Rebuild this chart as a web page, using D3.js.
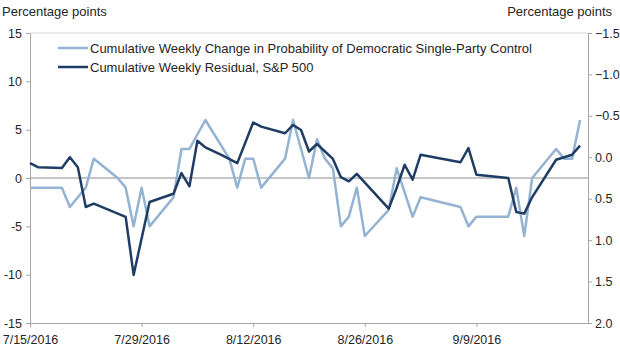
<!DOCTYPE html>
<html>
<head>
<meta charset="utf-8">
<script src="https://cdn.jsdelivr.net/npm/d3@7"></script>
<style>
    body { margin: 0; background: #fff; }
    svg { font-family: "Liberation Sans", Arial, sans-serif; }
    .axis path, .axis line { stroke: #a6a6a6; }
    .axis text { fill: #262626; font-size: 12.5px; }
</style>
</head>
<body>
<svg id="chart" width="620" height="352"></svg>
<script>
// Cumulative weekly change in probability of Democratic single-party control (left axis)
const probDates = ['2016-07-15', '2016-07-19', '2016-07-20', '2016-07-22', '2016-07-23', '2016-07-26',
    '2016-07-27', '2016-07-28', '2016-07-29', '2016-07-30', '2016-08-02', '2016-08-03', '2016-08-04',
    '2016-08-06', '2016-08-09', '2016-08-10', '2016-08-11', '2016-08-12', '2016-08-13', '2016-08-16',
    '2016-08-17', '2016-08-19', '2016-08-20', '2016-08-21', '2016-08-22', '2016-08-23', '2016-08-24',
    '2016-08-25', '2016-08-26', '2016-08-29', '2016-08-30', '2016-09-01', '2016-09-02', '2016-09-07',
    '2016-09-08', '2016-09-09', '2016-09-13', '2016-09-14', '2016-09-15', '2016-09-16', '2016-09-19',
    '2016-09-20', '2016-09-21', '2016-09-22'];
const probValues = [-1, -1, -3, -1, 2, 0, -1, -5, -1, -5, -2, 3, 3, 6, 2, -1, 2, 2, -1, 2, 6, 0, 4, 2, 1,
    -5, -4, -1, -6, -3.3, 1, -4, -2, -3, -5, -4, -4, -1, -6, 0, 3, 2, 2, 6];

// Cumulative weekly residual, S&P 500 (right axis, inverted)
const spDates = ['2016-07-15', '2016-07-16', '2016-07-19', '2016-07-20', '2016-07-21', '2016-07-22',
    '2016-07-23', '2016-07-27', '2016-07-28', '2016-07-30', '2016-08-02', '2016-08-03', '2016-08-04',
    '2016-08-05', '2016-08-06', '2016-08-08', '2016-08-10', '2016-08-12', '2016-08-13', '2016-08-16',
    '2016-08-17', '2016-08-18', '2016-08-19', '2016-08-20', '2016-08-22', '2016-08-23', '2016-08-24',
    '2016-08-25', '2016-08-29', '2016-08-30', '2016-08-31', '2016-09-01', '2016-09-02', '2016-09-07',
    '2016-09-08', '2016-09-09', '2016-09-13', '2016-09-14', '2016-09-15', '2016-09-16', '2016-09-19',
    '2016-09-20', '2016-09-21', '2016-09-22'];
const spValues = [0.07, 0.12, 0.13, 0.0, 0.12, 0.6, 0.56, 0.72, 1.42, 0.54, 0.44, 0.19, 0.35, -0.2, -0.12,
    -0.03, 0.07, -0.42, -0.37, -0.29, -0.39, -0.33, -0.07, -0.16, 0.02, 0.24, 0.29, 0.2, 0.62, 0.37, 0.09,
    0.27, -0.03, 0.06, -0.11, 0.21, 0.25, 0.66, 0.68, 0.48, 0.03, 0.0, -0.03, -0.14];

const leftTicks = [-15, -10, -5, 0, 5, 10, 15];
const rightTicks = [-1.5, -1.0, -0.5, 0.0, 0.5, 1.0, 1.5, 2.0];
const xTickDates = ['2016-07-15', '2016-07-29', '2016-08-12', '2016-08-26', '2016-09-09'];
const xDomain = ['2016-07-15', '2016-09-23'];

const seriesNames = ['Cumulative Weekly Change in Probability of Democratic Single-Party Control',
    'Cumulative Weekly Residual, S&P 500'];
const seriesColors = ['#94b3d3', '#1f3d64'];

const parse = d3.timeParse('%Y-%m-%d');
const svg = d3.select('#chart');

const margin = { top: 33, right: 32, bottom: 29, left: 30 };
const width = 620 - margin.left - margin.right;
const height = 352 - margin.top - margin.bottom;

const x = d3.scaleTime().domain(xDomain.map(parse)).range([0, width]);
const yLeft = d3.scaleLinear().domain([-15, 15]).range([height, 0]);
const yRight = d3.scaleLinear().domain([-1.5, 2.0]).range([0, height]);

const chart = svg.append('g')
  .attr('transform', `translate(${margin.left},${margin.top})`);

// top border of plot area
chart.append('line')
  .attr('x1', 0).attr('x2', width)
  .attr('y1', 0).attr('y2', 0)
  .attr('stroke', '#d9d9d9');

// Axes
chart.append('g')
  .attr('class', 'axis')
  .call(d3.axisLeft(yLeft).tickValues(leftTicks).tickSize(4).tickPadding(4).tickSizeOuter(0))
  .selectAll('text').text((d) => d);

chart.append('g')
  .attr('class', 'axis')
  .attr('transform', `translate(${width},0)`)
  .call(d3.axisRight(yRight).tickValues(rightTicks).tickSize(4).tickPadding(3).tickSizeOuter(0)
    .tickFormat(d3.format('.1f')));

chart.append('g')
  .attr('class', 'axis')
  .attr('transform', `translate(0,${height})`)
  .call(d3.axisBottom(x).tickValues(xTickDates.map(parse)).tickSize(4).tickPadding(8).tickSizeOuter(0)
    .tickFormat(d3.timeFormat('%-m/%-d/%Y')));

// zero line
chart.append('line')
  .attr('x1', 0).attr('x2', width)
  .attr('y1', yLeft(0)).attr('y2', yLeft(0))
  .attr('stroke', '#8c8c8c')
  .attr('stroke-width', 1);

// Axis titles
svg.append('text')
  .attr('x', 2).attr('y', 16)
  .attr('font-size', 13).attr('fill', '#262626')
  .text('Percentage points');
svg.append('text')
  .attr('x', 612).attr('y', 16)
  .attr('text-anchor', 'end')
  .attr('font-size', 13).attr('fill', '#262626')
  .text('Percentage points');

// Lines
const probData = probDates.map((d, i) => ({ date: parse(d), value: probValues[i] }));
const spData = spDates.map((d, i) => ({ date: parse(d), value: spValues[i] }));

chart.append('path')
  .datum(probData)
  .attr('fill', 'none')
  .attr('stroke', seriesColors[0])
  .attr('stroke-width', 2.5)
  .attr('stroke-linejoin', 'round')
  .attr('d', d3.line().x((d) => x(d.date)).y((d) => yLeft(d.value)));

chart.append('path')
  .datum(spData)
  .attr('fill', 'none')
  .attr('stroke', seriesColors[1])
  .attr('stroke-width', 2.5)
  .attr('stroke-linejoin', 'round')
  .attr('d', d3.line().x((d) => x(d.date)).y((d) => yRight(d.value)));

// Legend
const legend = chart.append('g').attr('transform', 'translate(28,15)');
seriesNames.forEach((name, i) => {
    const row = legend.append('g').attr('transform', `translate(0,${i * 19})`);
    row.append('line')
      .attr('x1', 0).attr('x2', 30)
      .attr('stroke', seriesColors[i])
      .attr('stroke-width', 2.5);
    row.append('text')
      .attr('x', 32).attr('y', 4.5)
      .attr('font-size', 13).attr('fill', '#262626')
      .text(name);
});
</script>
</body>
</html>
